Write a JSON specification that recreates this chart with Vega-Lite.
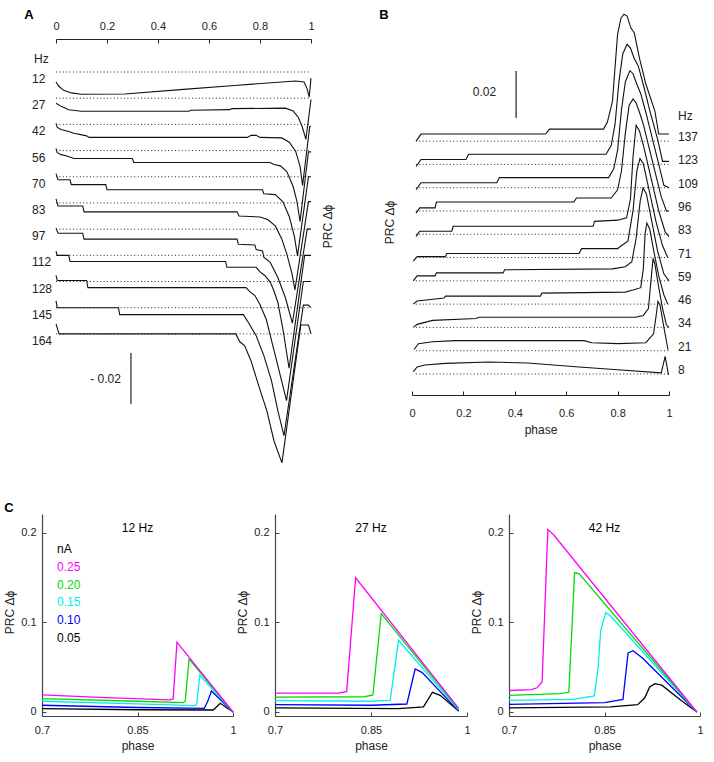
{
"$schema": "https://vega.github.io/schema/vega-lite/v6.json",
"background": "white",
"padding": {"left": 3, "top": 8, "right": 4, "bottom": 4},
"config": {
  "view": {"stroke": null},
  "font": "Liberation Sans",
  "axis": {"grid": false, "labelColor": "#222", "titleColor": "#222", "domainColor": "#222", "tickColor": "#222", "labelFontSize": 11, "titleFontSize": 12, "titleFontWeight": "normal", "tickSize": -4, "labelFlush": false, "labelFont": "Liberation Sans", "titleFont": "Liberation Sans"},
  "text": {"font": "Liberation Sans", "color": "#222"}
},
"datasets": {
  "offA": [{"hz":12,"off":0},{"hz":27,"off":-0.01027},{"hz":42,"off":-0.02054},{"hz":56,"off":-0.03081},{"hz":70,"off":-0.04108},{"hz":83,"off":-0.05135},{"hz":97,"off":-0.06162},{"hz":112,"off":-0.07189},{"hz":128,"off":-0.08216},{"hz":145,"off":-0.09243},{"hz":164,"off":-0.1027}],
  "offB": [{"hz":8,"off":0},{"hz":21,"off":0.00991},{"hz":34,"off":0.01982},{"hz":46,"off":0.02973},{"hz":59,"off":0.03964},{"hz":71,"off":0.04955},{"hz":83,"off":0.05946},{"hz":96,"off":0.06937},{"hz":109,"off":0.07928},{"hz":123,"off":0.08919},{"hz":137,"off":0.0991}],
  "legendC": [{"nA":"nA"},{"nA":"0.25"},{"nA":"0.20"},{"nA":"0.15"},{"nA":"0.10"},{"nA":"0.05"}],
  "curvesA": [
    {"hz":12,"phase":0,"prc":-0.0039},{"hz":12,"phase":0.01,"prc":-0.0055},{"hz":12,"phase":0.03,"prc":-0.0072},{"hz":12,"phase":0.06,"prc":-0.0082},{"hz":12,"phase":0.1,"prc":-0.0087},{"hz":12,"phase":0.27,"prc":-0.0086},{"hz":12,"phase":0.5,"prc":-0.0068},{"hz":12,"phase":0.7,"prc":-0.0053},{"hz":12,"phase":0.94,"prc":-0.0035},{"hz":12,"phase":0.973,"prc":-0.0039},{"hz":12,"phase":0.985,"prc":-0.0067},{"hz":12,"phase":0.993,"prc":-0.0098},{"hz":12,"phase":1.0,"prc":-0.0024},
    {"hz":27,"phase":0,"prc":-0.002},{"hz":27,"phase":0.02,"prc":-0.0032},{"hz":27,"phase":0.05,"prc":-0.0045},{"hz":27,"phase":0.1,"prc":-0.0051},{"hz":27,"phase":0.52,"prc":-0.0051},{"hz":27,"phase":0.53,"prc":-0.0047},{"hz":27,"phase":0.68,"prc":-0.0045},{"hz":27,"phase":0.69,"prc":-0.0041},{"hz":27,"phase":0.9,"prc":-0.0039},{"hz":27,"phase":0.93,"prc":-0.005},{"hz":27,"phase":0.95,"prc":-0.0075},{"hz":27,"phase":0.965,"prc":-0.011},{"hz":27,"phase":0.98,"prc":-0.0161},{"hz":27,"phase":1.0,"prc":-0.0005},
    {"hz":42,"phase":0,"prc":0.0004},{"hz":42,"phase":0.005,"prc":-0.0012},{"hz":42,"phase":0.02,"prc":-0.002},{"hz":42,"phase":0.05,"prc":-0.0028},{"hz":42,"phase":0.07,"prc":-0.0035},{"hz":42,"phase":0.12,"prc":-0.0045},{"hz":42,"phase":0.13,"prc":-0.0051},{"hz":42,"phase":0.75,"prc":-0.0051},{"hz":42,"phase":0.765,"prc":-0.0043},{"hz":42,"phase":0.785,"prc":-0.0043},{"hz":42,"phase":0.8,"prc":-0.0051},{"hz":42,"phase":0.885,"prc":-0.0053},{"hz":42,"phase":0.915,"prc":-0.007},{"hz":42,"phase":0.94,"prc":-0.0106},{"hz":42,"phase":0.957,"prc":-0.0165},{"hz":42,"phase":0.967,"prc":-0.0239},{"hz":42,"phase":0.995,"prc":-0.0008},{"hz":42,"phase":1.0,"prc":-0.0008},
    {"hz":56,"phase":0,"prc":0.0008},{"hz":56,"phase":0.005,"prc":-0.0008},{"hz":56,"phase":0.02,"prc":-0.0016},{"hz":56,"phase":0.04,"prc":-0.002},{"hz":56,"phase":0.07,"prc":-0.0031},{"hz":56,"phase":0.3,"prc":-0.0031},{"hz":56,"phase":0.305,"prc":-0.0047},{"hz":56,"phase":0.84,"prc":-0.0047},{"hz":56,"phase":0.855,"prc":-0.0055},{"hz":56,"phase":0.88,"prc":-0.006},{"hz":56,"phase":0.905,"prc":-0.0082},{"hz":56,"phase":0.93,"prc":-0.0141},{"hz":56,"phase":0.945,"prc":-0.02},{"hz":56,"phase":0.957,"prc":-0.0278},{"hz":56,"phase":0.99,"prc":-0.0005},{"hz":56,"phase":1.0,"prc":-0.0005},
    {"hz":70,"phase":0,"prc":0.0012},{"hz":70,"phase":0.008,"prc":-0.0012},{"hz":70,"phase":0.055,"prc":-0.0012},{"hz":70,"phase":0.06,"prc":-0.0031},{"hz":70,"phase":0.195,"prc":-0.0031},{"hz":70,"phase":0.2,"prc":-0.0051},{"hz":70,"phase":0.81,"prc":-0.0051},{"hz":70,"phase":0.815,"prc":-0.0067},{"hz":70,"phase":0.86,"prc":-0.007},{"hz":70,"phase":0.89,"prc":-0.0098},{"hz":70,"phase":0.915,"prc":-0.0157},{"hz":70,"phase":0.935,"prc":-0.0235},{"hz":70,"phase":0.947,"prc":-0.031},{"hz":70,"phase":0.99,"prc":0},{"hz":70,"phase":1.0,"prc":0},
    {"hz":83,"phase":0,"prc":0.0016},{"hz":83,"phase":0.008,"prc":-0.0012},{"hz":83,"phase":0.105,"prc":-0.0012},{"hz":83,"phase":0.11,"prc":-0.0035},{"hz":83,"phase":0.71,"prc":-0.0035},{"hz":83,"phase":0.718,"prc":-0.0051},{"hz":83,"phase":0.8,"prc":-0.0055},{"hz":83,"phase":0.83,"prc":-0.0065},{"hz":83,"phase":0.86,"prc":-0.009},{"hz":83,"phase":0.885,"prc":-0.014},{"hz":83,"phase":0.905,"prc":-0.02},{"hz":83,"phase":0.925,"prc":-0.0275},{"hz":83,"phase":0.937,"prc":-0.0341},{"hz":83,"phase":0.99,"prc":0.0005},{"hz":83,"phase":1.0,"prc":0.0005},
    {"hz":97,"phase":0,"prc":0.0004},{"hz":97,"phase":0.008,"prc":-0.0016},{"hz":97,"phase":0.105,"prc":-0.0016},{"hz":97,"phase":0.11,"prc":-0.0039},{"hz":97,"phase":0.71,"prc":-0.0039},{"hz":97,"phase":0.715,"prc":-0.0059},{"hz":97,"phase":0.78,"prc":-0.0062},{"hz":97,"phase":0.785,"prc":-0.008},{"hz":97,"phase":0.81,"prc":-0.0086},{"hz":97,"phase":0.815,"prc":-0.011},{"hz":97,"phase":0.84,"prc":-0.013},{"hz":97,"phase":0.87,"prc":-0.019},{"hz":97,"phase":0.9,"prc":-0.027},{"hz":97,"phase":0.927,"prc":-0.0369},{"hz":97,"phase":0.985,"prc":0},{"hz":97,"phase":1.0,"prc":0},
    {"hz":112,"phase":0,"prc":0.0016},{"hz":112,"phase":0.005,"prc":0},{"hz":112,"phase":0.05,"prc":0},{"hz":112,"phase":0.055,"prc":-0.0024},{"hz":112,"phase":0.665,"prc":-0.0024},{"hz":112,"phase":0.67,"prc":-0.0047},{"hz":112,"phase":0.785,"prc":-0.0047},{"hz":112,"phase":0.8,"prc":-0.0065},{"hz":112,"phase":0.82,"prc":-0.008},{"hz":112,"phase":0.84,"prc":-0.0105},{"hz":112,"phase":0.855,"prc":-0.014},{"hz":112,"phase":0.87,"prc":-0.0185},{"hz":112,"phase":0.89,"prc":-0.029},{"hz":112,"phase":0.914,"prc":-0.0443},{"hz":112,"phase":0.975,"prc":0},{"hz":112,"phase":1.0,"prc":0},
    {"hz":128,"phase":0,"prc":0.0024},{"hz":128,"phase":0.005,"prc":0.0004},{"hz":128,"phase":0.12,"prc":0.0004},{"hz":128,"phase":0.125,"prc":-0.0024},{"hz":128,"phase":0.745,"prc":-0.0024},{"hz":128,"phase":0.76,"prc":-0.004},{"hz":128,"phase":0.78,"prc":-0.0055},{"hz":128,"phase":0.8,"prc":-0.009},{"hz":128,"phase":0.825,"prc":-0.015},{"hz":128,"phase":0.85,"prc":-0.025},{"hz":128,"phase":0.88,"prc":-0.037},{"hz":128,"phase":0.904,"prc":-0.0467},{"hz":128,"phase":0.97,"prc":0},{"hz":128,"phase":1.0,"prc":0},
    {"hz":145,"phase":0,"prc":0.0027},{"hz":145,"phase":0.005,"prc":0},{"hz":145,"phase":0.245,"prc":0},{"hz":145,"phase":0.25,"prc":-0.0027},{"hz":145,"phase":0.735,"prc":-0.0027},{"hz":145,"phase":0.755,"prc":-0.0059},{"hz":145,"phase":0.785,"prc":-0.011},{"hz":145,"phase":0.815,"prc":-0.0188},{"hz":145,"phase":0.845,"prc":-0.0286},{"hz":145,"phase":0.87,"prc":-0.0404},{"hz":145,"phase":0.894,"prc":-0.0502},{"hz":145,"phase":0.97,"prc":0.001},{"hz":145,"phase":0.99,"prc":0.001},{"hz":145,"phase":1.0,"prc":0},
    {"hz":164,"phase":0,"prc":0.0039},{"hz":164,"phase":0.012,"prc":0},{"hz":164,"phase":0.705,"prc":0},{"hz":164,"phase":0.72,"prc":-0.003},{"hz":164,"phase":0.74,"prc":-0.0047},{"hz":164,"phase":0.765,"prc":-0.0106},{"hz":164,"phase":0.795,"prc":-0.0204},{"hz":164,"phase":0.827,"prc":-0.0302},{"hz":164,"phase":0.855,"prc":-0.042},{"hz":164,"phase":0.886,"prc":-0.0506},{"hz":164,"phase":0.96,"prc":0.0035},{"hz":164,"phase":0.99,"prc":0.0035},{"hz":164,"phase":1.0,"prc":0}
  ],
  "curvesB": [
    {"hz":137,"phase":0.016,"prc":0},{"hz":137,"phase":0.035,"prc":0.003},{"hz":137,"phase":0.52,"prc":0.003},{"hz":137,"phase":0.535,"prc":0.0051},{"hz":137,"phase":0.745,"prc":0.0051},{"hz":137,"phase":0.76,"prc":0.008},{"hz":137,"phase":0.78,"prc":0.017},{"hz":137,"phase":0.8,"prc":0.0455},{"hz":137,"phase":0.813,"prc":0.0523},{"hz":137,"phase":0.825,"prc":0.054},{"hz":137,"phase":0.837,"prc":0.0532},{"hz":137,"phase":0.852,"prc":0.0481},{"hz":137,"phase":0.865,"prc":0.046},{"hz":137,"phase":0.885,"prc":0.0353},{"hz":137,"phase":0.91,"prc":0.0243},{"hz":137,"phase":0.945,"prc":0.0128},{"hz":137,"phase":0.96,"prc":0.003},{"hz":137,"phase":1.0,"prc":0.003},
    {"hz":123,"phase":0.016,"prc":-0.0009},{"hz":123,"phase":0.035,"prc":0.0021},{"hz":123,"phase":0.21,"prc":0.0021},{"hz":123,"phase":0.22,"prc":0.0043},{"hz":123,"phase":0.755,"prc":0.0043},{"hz":123,"phase":0.775,"prc":0.008},{"hz":123,"phase":0.79,"prc":0.017},{"hz":123,"phase":0.805,"prc":0.035},{"hz":123,"phase":0.82,"prc":0.047},{"hz":123,"phase":0.837,"prc":0.0511},{"hz":123,"phase":0.85,"prc":0.0495},{"hz":123,"phase":0.865,"prc":0.045},{"hz":123,"phase":0.88,"prc":0.042},{"hz":123,"phase":0.9,"prc":0.034},{"hz":123,"phase":0.925,"prc":0.023},{"hz":123,"phase":0.955,"prc":0.011},{"hz":123,"phase":0.975,"prc":0.0013},{"hz":123,"phase":1.0,"prc":0.0013},
    {"hz":109,"phase":0.016,"prc":-0.0009},{"hz":109,"phase":0.035,"prc":0.0021},{"hz":109,"phase":0.33,"prc":0.0021},{"hz":109,"phase":0.34,"prc":0.0043},{"hz":109,"phase":0.765,"prc":0.0043},{"hz":109,"phase":0.785,"prc":0.008},{"hz":109,"phase":0.8,"prc":0.016},{"hz":109,"phase":0.815,"prc":0.033},{"hz":109,"phase":0.83,"prc":0.045},{"hz":109,"phase":0.848,"prc":0.0498},{"hz":109,"phase":0.86,"prc":0.0485},{"hz":109,"phase":0.875,"prc":0.044},{"hz":109,"phase":0.89,"prc":0.04},{"hz":109,"phase":0.91,"prc":0.032},{"hz":109,"phase":0.935,"prc":0.021},{"hz":109,"phase":0.96,"prc":0.01},{"hz":109,"phase":0.98,"prc":0.001},{"hz":109,"phase":1.0,"prc":0},
    {"hz":96,"phase":0.016,"prc":-0.0009},{"hz":96,"phase":0.03,"prc":0.0013},{"hz":96,"phase":0.09,"prc":0.0013},{"hz":96,"phase":0.095,"prc":0.0038},{"hz":96,"phase":0.63,"prc":0.0038},{"hz":96,"phase":0.64,"prc":0.0055},{"hz":96,"phase":0.775,"prc":0.0055},{"hz":96,"phase":0.8,"prc":0.009},{"hz":96,"phase":0.815,"prc":0.017},{"hz":96,"phase":0.83,"prc":0.033},{"hz":96,"phase":0.845,"prc":0.045},{"hz":96,"phase":0.86,"prc":0.0477},{"hz":96,"phase":0.872,"prc":0.046},{"hz":96,"phase":0.885,"prc":0.042},{"hz":96,"phase":0.9,"prc":0.037},{"hz":96,"phase":0.92,"prc":0.028},{"hz":96,"phase":0.945,"prc":0.017},{"hz":96,"phase":0.97,"prc":0.006},{"hz":96,"phase":0.99,"prc":0},{"hz":96,"phase":1.0,"prc":0},
    {"hz":83,"phase":0.016,"prc":-0.0009},{"hz":83,"phase":0.03,"prc":0.0013},{"hz":83,"phase":0.155,"prc":0.0013},{"hz":83,"phase":0.16,"prc":0.0034},{"hz":83,"phase":0.705,"prc":0.0034},{"hz":83,"phase":0.71,"prc":0.0055},{"hz":83,"phase":0.8,"prc":0.006},{"hz":83,"phase":0.835,"prc":0.007},{"hz":83,"phase":0.85,"prc":0.015},{"hz":83,"phase":0.86,"prc":0.033},{"hz":83,"phase":0.872,"prc":0.0464},{"hz":83,"phase":0.885,"prc":0.044},{"hz":83,"phase":0.9,"prc":0.038},{"hz":83,"phase":0.93,"prc":0.024},{"hz":83,"phase":0.96,"prc":0.01},{"hz":83,"phase":0.985,"prc":0.001},{"hz":83,"phase":1.0,"prc":-0.001},
    {"hz":71,"phase":0.005,"prc":-0.0015},{"hz":71,"phase":0.02,"prc":0.0004},{"hz":71,"phase":0.13,"prc":0.0004},{"hz":71,"phase":0.135,"prc":0.0017},{"hz":71,"phase":0.65,"prc":0.0017},{"hz":71,"phase":0.66,"prc":0.0038},{"hz":71,"phase":0.8,"prc":0.0038},{"hz":71,"phase":0.81,"prc":0.0047},{"hz":71,"phase":0.84,"prc":0.007},{"hz":71,"phase":0.86,"prc":0.02},{"hz":71,"phase":0.875,"prc":0.037},{"hz":71,"phase":0.887,"prc":0.0421},{"hz":71,"phase":0.9,"prc":0.04},{"hz":71,"phase":0.92,"prc":0.03},{"hz":71,"phase":0.95,"prc":0.015},{"hz":71,"phase":0.975,"prc":0.005},{"hz":71,"phase":0.995,"prc":0},
    {"hz":59,"phase":0.005,"prc":0},{"hz":59,"phase":0.02,"prc":0.0021},{"hz":59,"phase":0.09,"prc":0.0021},{"hz":59,"phase":0.095,"prc":0.0034},{"hz":59,"phase":0.355,"prc":0.0034},{"hz":59,"phase":0.36,"prc":0.0047},{"hz":59,"phase":0.78,"prc":0.0051},{"hz":59,"phase":0.83,"prc":0.006},{"hz":59,"phase":0.855,"prc":0.008},{"hz":59,"phase":0.872,"prc":0.018},{"hz":59,"phase":0.888,"prc":0.034},{"hz":59,"phase":0.899,"prc":0.0396},{"hz":59,"phase":0.912,"prc":0.037},{"hz":59,"phase":0.93,"prc":0.027},{"hz":59,"phase":0.955,"prc":0.013},{"hz":59,"phase":0.98,"prc":0.003},{"hz":59,"phase":1.0,"prc":0},
    {"hz":46,"phase":0.005,"prc":0},{"hz":46,"phase":0.02,"prc":0.0013},{"hz":46,"phase":0.125,"prc":0.0026},{"hz":46,"phase":0.13,"prc":0.0034},{"hz":46,"phase":0.5,"prc":0.0034},{"hz":46,"phase":0.505,"prc":0.0047},{"hz":46,"phase":0.83,"prc":0.0051},{"hz":46,"phase":0.86,"prc":0.006},{"hz":46,"phase":0.89,"prc":0.007},{"hz":46,"phase":0.9,"prc":0.015},{"hz":46,"phase":0.907,"prc":0.03},{"hz":46,"phase":0.914,"prc":0.0345},{"hz":46,"phase":0.925,"prc":0.032},{"hz":46,"phase":0.94,"prc":0.023},{"hz":46,"phase":0.96,"prc":0.012},{"hz":46,"phase":0.98,"prc":0.004},{"hz":46,"phase":0.995,"prc":0},
    {"hz":34,"phase":0.005,"prc":0},{"hz":34,"phase":0.02,"prc":0.0013},{"hz":34,"phase":0.08,"prc":0.003},{"hz":34,"phase":0.25,"prc":0.0038},{"hz":34,"phase":0.26,"prc":0.0043},{"hz":34,"phase":0.87,"prc":0.0043},{"hz":34,"phase":0.9,"prc":0.0051},{"hz":34,"phase":0.92,"prc":0.008},{"hz":34,"phase":0.93,"prc":0.02},{"hz":34,"phase":0.938,"prc":0.0294},{"hz":34,"phase":0.945,"prc":0.027},{"hz":34,"phase":0.96,"prc":0.017},{"hz":34,"phase":0.975,"prc":0.008},{"hz":34,"phase":0.99,"prc":0.001},{"hz":34,"phase":1.0,"prc":0},
    {"hz":21,"phase":0.008,"prc":0.0005},{"hz":21,"phase":0.025,"prc":0.003},{"hz":21,"phase":0.08,"prc":0.0038},{"hz":21,"phase":0.17,"prc":0.0043},{"hz":21,"phase":0.67,"prc":0.0043},{"hz":21,"phase":0.7,"prc":0.0034},{"hz":21,"phase":0.8,"prc":0.003},{"hz":21,"phase":0.91,"prc":0.0034},{"hz":21,"phase":0.94,"prc":0.0072},{"hz":21,"phase":0.95,"prc":0.015},{"hz":21,"phase":0.957,"prc":0.021},{"hz":21,"phase":0.965,"prc":0.0195},{"hz":21,"phase":0.98,"prc":0.01},{"hz":21,"phase":0.996,"prc":0.0004},
    {"hz":8,"phase":0.005,"prc":0.001},{"hz":8,"phase":0.02,"prc":0.003},{"hz":8,"phase":0.05,"prc":0.0038},{"hz":8,"phase":0.13,"prc":0.0045},{"hz":8,"phase":0.3,"prc":0.0051},{"hz":8,"phase":0.45,"prc":0.0047},{"hz":8,"phase":0.65,"prc":0.003},{"hz":8,"phase":0.8,"prc":0.0018},{"hz":8,"phase":0.97,"prc":0.0005},{"hz":8,"phase":0.985,"prc":0.0075},{"hz":8,"phase":0.998,"prc":-0.0004}
  ],
  "curvesC": [
    {"hz":"12 Hz","nA":"0.05","phase":0.7,"prc":0.0037},{"hz":"12 Hz","nA":"0.05","phase":0.85,"prc":0.0025},{"hz":"12 Hz","nA":"0.05","phase":0.969,"prc":0.0022},{"hz":"12 Hz","nA":"0.05","phase":0.98,"prc":0.0097},{"hz":"12 Hz","nA":"0.05","phase":1.0,"prc":0},
    {"hz":"12 Hz","nA":"0.10","phase":0.7,"prc":0.0075},{"hz":"12 Hz","nA":"0.10","phase":0.85,"prc":0.005},{"hz":"12 Hz","nA":"0.10","phase":0.955,"prc":0.004},{"hz":"12 Hz","nA":"0.10","phase":0.961,"prc":0.013},{"hz":"12 Hz","nA":"0.10","phase":0.966,"prc":0.0235},{"hz":"12 Hz","nA":"0.10","phase":1.0,"prc":0},
    {"hz":"12 Hz","nA":"0.15","phase":0.7,"prc":0.012},{"hz":"12 Hz","nA":"0.15","phase":0.85,"prc":0.009},{"hz":"12 Hz","nA":"0.15","phase":0.94,"prc":0.007},{"hz":"12 Hz","nA":"0.15","phase":0.943,"prc":0.009},{"hz":"12 Hz","nA":"0.15","phase":0.948,"prc":0.041},{"hz":"12 Hz","nA":"0.15","phase":1.0,"prc":0},
    {"hz":"12 Hz","nA":"0.20","phase":0.7,"prc":0.015},{"hz":"12 Hz","nA":"0.20","phase":0.85,"prc":0.012},{"hz":"12 Hz","nA":"0.20","phase":0.922,"prc":0.0105},{"hz":"12 Hz","nA":"0.20","phase":0.925,"prc":0.012},{"hz":"12 Hz","nA":"0.20","phase":0.931,"prc":0.059},{"hz":"12 Hz","nA":"0.20","phase":1.0,"prc":0},
    {"hz":"12 Hz","nA":"0.25","phase":0.7,"prc":0.019},{"hz":"12 Hz","nA":"0.25","phase":0.8,"prc":0.016},{"hz":"12 Hz","nA":"0.25","phase":0.9,"prc":0.0135},{"hz":"12 Hz","nA":"0.25","phase":0.906,"prc":0.0145},{"hz":"12 Hz","nA":"0.25","phase":0.912,"prc":0.078},{"hz":"12 Hz","nA":"0.25","phase":1.0,"prc":0},
    {"hz":"27 Hz","nA":"0.05","phase":0.7,"prc":0.0045},{"hz":"27 Hz","nA":"0.05","phase":0.893,"prc":0.0037},{"hz":"27 Hz","nA":"0.05","phase":0.932,"prc":0.0056},{"hz":"27 Hz","nA":"0.05","phase":0.946,"prc":0.022},{"hz":"27 Hz","nA":"0.05","phase":0.958,"prc":0.0186},{"hz":"27 Hz","nA":"0.05","phase":0.987,"prc":0.001},
    {"hz":"27 Hz","nA":"0.10","phase":0.7,"prc":0.0082},{"hz":"27 Hz","nA":"0.10","phase":0.85,"prc":0.0075},{"hz":"27 Hz","nA":"0.10","phase":0.906,"prc":0.0089},{"hz":"27 Hz","nA":"0.10","phase":0.919,"prc":0.048},{"hz":"27 Hz","nA":"0.10","phase":0.93,"prc":0.044},{"hz":"27 Hz","nA":"0.10","phase":0.987,"prc":0.001},
    {"hz":"27 Hz","nA":"0.15","phase":0.7,"prc":0.0127},{"hz":"27 Hz","nA":"0.15","phase":0.85,"prc":0.012},{"hz":"27 Hz","nA":"0.15","phase":0.88,"prc":0.013},{"hz":"27 Hz","nA":"0.15","phase":0.893,"prc":0.08},{"hz":"27 Hz","nA":"0.15","phase":0.987,"prc":0.002},
    {"hz":"27 Hz","nA":"0.20","phase":0.7,"prc":0.0165},{"hz":"27 Hz","nA":"0.20","phase":0.84,"prc":0.017},{"hz":"27 Hz","nA":"0.20","phase":0.853,"prc":0.019},{"hz":"27 Hz","nA":"0.20","phase":0.866,"prc":0.11},{"hz":"27 Hz","nA":"0.20","phase":0.987,"prc":0.003},
    {"hz":"27 Hz","nA":"0.25","phase":0.7,"prc":0.021},{"hz":"27 Hz","nA":"0.25","phase":0.8,"prc":0.021},{"hz":"27 Hz","nA":"0.25","phase":0.812,"prc":0.023},{"hz":"27 Hz","nA":"0.25","phase":0.826,"prc":0.15},{"hz":"27 Hz","nA":"0.25","phase":0.987,"prc":0.004},
    {"hz":"42 Hz","nA":"0.05","phase":0.7,"prc":0.0045},{"hz":"42 Hz","nA":"0.05","phase":0.86,"prc":0.0056},{"hz":"42 Hz","nA":"0.05","phase":0.902,"prc":0.0082},{"hz":"42 Hz","nA":"0.05","phase":0.913,"prc":0.0156},{"hz":"42 Hz","nA":"0.05","phase":0.921,"prc":0.028},{"hz":"42 Hz","nA":"0.05","phase":0.929,"prc":0.0317},{"hz":"42 Hz","nA":"0.05","phase":0.94,"prc":0.03},{"hz":"42 Hz","nA":"0.05","phase":0.97,"prc":0.013},{"hz":"42 Hz","nA":"0.05","phase":0.995,"prc":0},
    {"hz":"42 Hz","nA":"0.10","phase":0.7,"prc":0.0086},{"hz":"42 Hz","nA":"0.10","phase":0.85,"prc":0.0104},{"hz":"42 Hz","nA":"0.10","phase":0.879,"prc":0.014},{"hz":"42 Hz","nA":"0.10","phase":0.887,"prc":0.066},{"hz":"42 Hz","nA":"0.10","phase":0.895,"prc":0.0685},{"hz":"42 Hz","nA":"0.10","phase":0.91,"prc":0.06},{"hz":"42 Hz","nA":"0.10","phase":0.995,"prc":0},
    {"hz":"42 Hz","nA":"0.15","phase":0.7,"prc":0.013},{"hz":"42 Hz","nA":"0.15","phase":0.8,"prc":0.014},{"hz":"42 Hz","nA":"0.15","phase":0.834,"prc":0.018},{"hz":"42 Hz","nA":"0.15","phase":0.84,"prc":0.05},{"hz":"42 Hz","nA":"0.15","phase":0.844,"prc":0.091},{"hz":"42 Hz","nA":"0.15","phase":0.852,"prc":0.111},{"hz":"42 Hz","nA":"0.15","phase":0.86,"prc":0.107},{"hz":"42 Hz","nA":"0.15","phase":0.995,"prc":0},
    {"hz":"42 Hz","nA":"0.20","phase":0.7,"prc":0.0186},{"hz":"42 Hz","nA":"0.20","phase":0.78,"prc":0.0205},{"hz":"42 Hz","nA":"0.20","phase":0.794,"prc":0.022},{"hz":"42 Hz","nA":"0.20","phase":0.803,"prc":0.1557},{"hz":"42 Hz","nA":"0.20","phase":0.81,"prc":0.1546},{"hz":"42 Hz","nA":"0.20","phase":0.995,"prc":0},
    {"hz":"42 Hz","nA":"0.25","phase":0.7,"prc":0.024},{"hz":"42 Hz","nA":"0.25","phase":0.735,"prc":0.025},{"hz":"42 Hz","nA":"0.25","phase":0.744,"prc":0.027},{"hz":"42 Hz","nA":"0.25","phase":0.752,"prc":0.0335},{"hz":"42 Hz","nA":"0.25","phase":0.761,"prc":0.204},{"hz":"42 Hz","nA":"0.25","phase":0.77,"prc":0.198},{"hz":"42 Hz","nA":"0.25","phase":0.995,"prc":0}
  ]
},
"resolve": {"scale": {"color": "independent"}, "legend": {"color": "independent"}},
"spacing": 31,
"vconcat": [
  {
    "bounds": "flush",
    "spacing": 101,
    "hconcat": [
      {
        "width": 269, "height": 462,
        "layer": [
          {
            "data": {"name": "curvesA"},
            "transform": [
              {"lookup": "hz", "from": {"data": {"name": "offA"}, "key": "hz", "fields": ["off"]}},
              {"calculate": "datum.prc + datum.off", "as": "y"}
            ],
            "mark": {"type": "line", "color": "#111", "strokeWidth": 1.1},
            "encoding": {
              "x": {"field": "phase", "type": "quantitative", "scale": {"domain": [0, 1], "range": [14, 269], "nice": false},
                    "axis": {"orient": "top", "offset": -30, "values": [0, 0.2, 0.4, 0.6, 0.8, 1], "format": "~g", "labelPadding": 12, "title": null}},
              "y": {"field": "y", "type": "quantitative", "scale": {"domain": [-0.15647, 0.02471], "nice": false, "zero": false},
                    "axis": {"orient": "right", "domain": false, "ticks": false, "labels": false, "title": "PRC Δϕ", "titleAngle": 270, "titleX": 16, "titleY": 217, "titleAlign": "center", "titleBaseline": "middle"}},
              "detail": {"field": "hz", "type": "nominal"}
            }
          },
          {
            "data": {"name": "offA"},
            "mark": {"type": "rule", "strokeDash": [1, 2.4], "strokeWidth": 1, "color": "#222"},
            "encoding": {"x": {"datum": 0}, "x2": {"datum": 1}, "y": {"field": "off", "type": "quantitative"}}
          },
          {
            "data": {"name": "offA"},
            "mark": {"type": "text", "align": "left", "baseline": "middle", "dx": -24, "dy": 7, "fontSize": 12},
            "encoding": {"x": {"datum": 0}, "y": {"field": "off", "type": "quantitative"}, "text": {"field": "hz", "type": "nominal"}}
          },
          {
            "data": {"values": [{}]},
            "mark": {"type": "text", "align": "left", "baseline": "middle", "dx": -22, "fontSize": 12},
            "encoding": {"x": {"datum": 0}, "y": {"datum": 0.0051}, "text": {"value": "Hz"}}
          },
          {
            "data": {"values": [{}]},
            "mark": {"type": "rule", "strokeWidth": 1.2, "color": "#222"},
            "encoding": {"x": {"datum": 0.294}, "y": {"datum": -0.1102}, "y2": {"datum": -0.1302}}
          },
          {
            "data": {"values": [{}]},
            "mark": {"type": "text", "align": "right", "baseline": "middle", "dx": -10, "fontSize": 12},
            "encoding": {"x": {"datum": 0.294}, "y": {"datum": -0.1202}, "text": {"value": "- 0.02"}}
          },
          {
            "data": {"values": [{}]},
            "mark": {"type": "text", "align": "center", "baseline": "middle", "fontSize": 13, "fontWeight": "bold", "color": "#000"},
            "encoding": {"x": {"datum": -0.106}, "y": {"datum": 0.02236}, "text": {"value": "A"}}
          }
        ]
      },
      {
        "width": 257, "height": 386,
        "layer": [
          {
            "data": {"name": "curvesB"},
            "transform": [
              {"lookup": "hz", "from": {"data": {"name": "offB"}, "key": "hz", "fields": ["off"]}},
              {"calculate": "datum.prc + datum.off", "as": "y"}
            ],
            "mark": {"type": "line", "color": "#111", "strokeWidth": 1.1},
            "encoding": {
              "x": {"field": "phase", "type": "quantitative", "scale": {"domain": [0, 1], "nice": false},
                    "axis": {"orient": "bottom", "values": [0, 0.2, 0.4, 0.6, 0.8, 1], "format": "~g", "labelPadding": 16, "title": "phase", "titlePadding": 6}},
              "y": {"field": "y", "type": "quantitative", "scale": {"domain": [-0.00894, 0.15532], "nice": false, "zero": false},
                    "axis": {"orient": "left", "domain": false, "ticks": false, "labels": false, "title": "PRC Δϕ", "titleAngle": 270, "titleX": -23, "titleY": 213, "titleAlign": "center", "titleBaseline": "middle"}},
              "detail": {"field": "hz", "type": "nominal"}
            }
          },
          {
            "data": {"name": "offB"},
            "mark": {"type": "rule", "strokeDash": [1, 2.4], "strokeWidth": 1, "color": "#222"},
            "encoding": {"x": {"datum": 0.015}, "x2": {"datum": 1}, "y": {"field": "off", "type": "quantitative"}}
          },
          {
            "data": {"name": "offB"},
            "mark": {"type": "text", "align": "left", "baseline": "middle", "dx": 9, "dy": -4, "fontSize": 12},
            "encoding": {"x": {"datum": 1}, "y": {"field": "off", "type": "quantitative"}, "text": {"field": "hz", "type": "nominal"}}
          },
          {
            "data": {"values": [{}]},
            "mark": {"type": "text", "align": "left", "baseline": "middle", "dx": 9, "fontSize": 12},
            "encoding": {"x": {"datum": 1}, "y": {"datum": 0.1098}, "text": {"value": "Hz"}}
          },
          {
            "data": {"values": [{}]},
            "mark": {"type": "rule", "strokeWidth": 1.2, "color": "#222"},
            "encoding": {"x": {"datum": 0.405}, "y": {"datum": 0.1289}, "y2": {"datum": 0.1089}}
          },
          {
            "data": {"values": [{}]},
            "mark": {"type": "text", "align": "right", "baseline": "middle", "dx": -20, "fontSize": 12},
            "encoding": {"x": {"datum": 0.405}, "y": {"datum": 0.1198}, "text": {"value": "0.02"}}
          },
          {
            "data": {"values": [{}]},
            "mark": {"type": "text", "align": "center", "baseline": "middle", "fontSize": 13, "fontWeight": "bold", "color": "#000"},
            "encoding": {"x": {"datum": -0.109}, "y": {"datum": 0.15277}, "text": {"value": "B"}}
          }
        ]
      }
    ]
  },
  {
    "bounds": "flush",
    "spacing": 42,
    "resolve": {"scale": {"color": "independent"}, "legend": {"color": "independent"}},
    "hconcat": [
      {
        "width": 191, "height": 202,
        "resolve": {"scale": {"y": "independent"}},
        "layer": [
          {
            "data": {"name": "curvesC"},
            "transform": [{"filter": "datum.hz === '12 Hz'"}],
            "mark": {"type": "line", "strokeWidth": 1.3},
            "encoding": {
              "x": {"field": "phase", "type": "quantitative", "scale": {"domain": [0.7, 1], "nice": false, "zero": false},
                    "axis": {"values": [0.7, 0.85, 1], "format": "~g", "labelPadding": 12.5, "title": "phase", "titlePadding": 5, "domainColor": "#444", "tickColor": "#444", "domainWidth": 1.2}},
              "y": {"field": "prc", "type": "quantitative", "scale": {"domain": [-0.0045, 0.2212], "nice": false, "zero": false},
                    "axis": {"values": [0, 0.1, 0.2], "format": "~g", "labelPadding": 10, "title": "PRC Δϕ", "titleX": -33, "titleY": 98, "titleAngle": 270, "titleAlign": "center", "titleBaseline": "middle", "domainColor": "#444", "tickColor": "#444", "domainWidth": 1.2}},
              "color": {"field": "nA", "type": "nominal",
                        "scale": {"domain": ["0.25", "0.20", "0.15", "0.10", "0.05"], "range": ["#ff00ff", "#00dd00", "#00eeee", "#0000ff", "#000000"]},
                        "legend": null}
            }
          },
          {
            "data": {"name": "legendC"},
            "mark": {"type": "text", "align": "left", "baseline": "middle", "fontSize": 12},
            "encoding": {
              "x": {"datum": 0.7236},
              "y": {"field": "nA", "type": "ordinal", "scale": {"type": "point", "domain": ["nA", "0.25", "0.20", "0.15", "0.10", "0.05"], "padding": 0, "range": [35, 124]}, "axis": null},
              "text": {"field": "nA", "type": "nominal"},
              "fill": {"field": "nA", "type": "nominal", "scale": {"domain": ["nA", "0.25", "0.20", "0.15", "0.10", "0.05"], "range": ["#000000", "#ff00ff", "#00dd00", "#00eeee", "#0000ff", "#000000"]}, "legend": null}
            }
          },
          {
            "data": {"values": [{}]},
            "mark": {"type": "text", "align": "center", "baseline": "middle", "fontSize": 12, "color": "#000"},
            "encoding": {"x": {"datum": 0.85}, "y": {"datum": 0.2056, "scale": {"domain": [-0.0045, 0.2212], "nice": false, "zero": false}, "axis": null}, "text": {"value": "12 Hz"}}
          },
          {
            "data": {"values": [{}]},
            "mark": {"type": "text", "align": "center", "baseline": "middle", "fontSize": 13, "fontWeight": "bold", "color": "#000"},
            "encoding": {"x": {"datum": 0.6482}, "y": {"datum": 0.2279, "scale": {"domain": [-0.0045, 0.2212], "nice": false, "zero": false}, "axis": null}, "text": {"value": "C"}}
          }
        ]
      },
      {
        "width": 192, "height": 202,
        "layer": [
          {
            "data": {"name": "curvesC"},
            "transform": [{"filter": "datum.hz === '27 Hz'"}],
            "mark": {"type": "line", "strokeWidth": 1.3},
            "encoding": {
              "x": {"field": "phase", "type": "quantitative", "scale": {"domain": [0.7, 1], "nice": false, "zero": false},
                    "axis": {"values": [0.7, 0.85, 1], "format": "~g", "labelPadding": 12.5, "title": "phase", "titlePadding": 5, "domainColor": "#444", "tickColor": "#444", "domainWidth": 1.2}},
              "y": {"field": "prc", "type": "quantitative", "scale": {"domain": [-0.0045, 0.2212], "nice": false, "zero": false},
                    "axis": {"values": [0, 0.1, 0.2], "format": "~g", "labelPadding": 10, "title": "PRC Δϕ", "titleX": -33, "titleY": 98, "titleAngle": 270, "titleAlign": "center", "titleBaseline": "middle", "domainColor": "#444", "tickColor": "#444", "domainWidth": 1.2}},
              "color": {"field": "nA", "type": "nominal",
                        "scale": {"domain": ["0.25", "0.20", "0.15", "0.10", "0.05"], "range": ["#ff00ff", "#00dd00", "#00eeee", "#0000ff", "#000000"]},
                        "legend": null}
            }
          },
          {
            "data": {"values": [{}]},
            "mark": {"type": "text", "align": "center", "baseline": "middle", "fontSize": 12, "color": "#000"},
            "encoding": {"x": {"datum": 0.85}, "y": {"datum": 0.2056}, "text": {"value": "27 Hz"}}
          }
        ]
      },
      {
        "width": 191, "height": 202,
        "layer": [
          {
            "data": {"name": "curvesC"},
            "transform": [{"filter": "datum.hz === '42 Hz'"}],
            "mark": {"type": "line", "strokeWidth": 1.3},
            "encoding": {
              "x": {"field": "phase", "type": "quantitative", "scale": {"domain": [0.7, 1], "nice": false, "zero": false},
                    "axis": {"values": [0.7, 0.85, 1], "format": "~g", "labelPadding": 12.5, "title": "phase", "titlePadding": 5, "domainColor": "#444", "tickColor": "#444", "domainWidth": 1.2}},
              "y": {"field": "prc", "type": "quantitative", "scale": {"domain": [-0.0045, 0.2212], "nice": false, "zero": false},
                    "axis": {"values": [0, 0.1, 0.2], "format": "~g", "labelPadding": 10, "title": "PRC Δϕ", "titleX": -33, "titleY": 98, "titleAngle": 270, "titleAlign": "center", "titleBaseline": "middle", "domainColor": "#444", "tickColor": "#444", "domainWidth": 1.2}},
              "color": {"field": "nA", "type": "nominal",
                        "scale": {"domain": ["0.25", "0.20", "0.15", "0.10", "0.05"], "range": ["#ff00ff", "#00dd00", "#00eeee", "#0000ff", "#000000"]},
                        "legend": null}
            }
          },
          {
            "data": {"values": [{}]},
            "mark": {"type": "text", "align": "center", "baseline": "middle", "fontSize": 12, "color": "#000"},
            "encoding": {"x": {"datum": 0.85}, "y": {"datum": 0.2056}, "text": {"value": "42 Hz"}}
          }
        ]
      }
    ]
  }
]
}
